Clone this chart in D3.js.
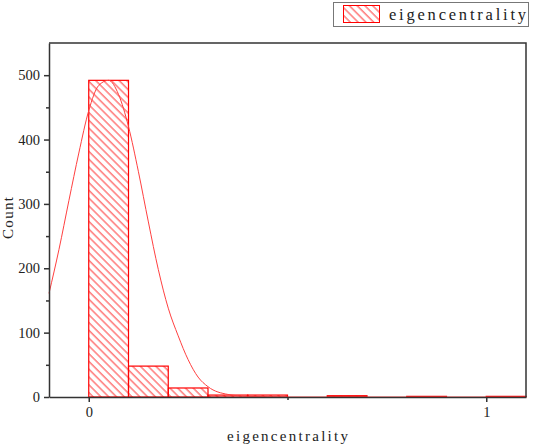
<!DOCTYPE html>
<html>
<head>
<meta charset="utf-8">
<script src="https://cdn.jsdelivr.net/npm/d3@7"></script>
<style>
  body { margin: 0; background: #fff; }
  text { font-family: "Liberation Serif", serif; fill: #222; }
</style>
</head>
<body>
<div id="chart"></div>
<script>
// histogram bins (left edge) and counts
let binStarts = [0, 0.1, 0.2, 0.3, 0.4, 0.5, 0.6, 0.7, 0.8, 0.9, 1.0];
let binWidth = 0.1;
let counts = [492, 48, 14, 3, 3, 0, 2, 0, 1, 0, 1];

// fitted curve
let fitX = [-0.1, -0.075, -0.05, -0.025, 0, 0.025, 0.05, 0.075, 0.1, 0.125, 0.15, 0.175, 0.2, 0.225, 0.25, 0.275, 0.3, 0.35, 0.4, 0.5, 0.7, 1.1];
let fitY = [161, 229, 305, 379, 445, 484, 492, 470, 420, 350, 272, 198, 138, 95, 58, 31, 16, 4, 1, 0, 0, 0];

// ticks
let xMajor = [0, 1];
let xMinor = [0.5];
let yMajor = [0, 100, 200, 300, 400, 500];
let yMinor = [50, 150, 250, 350, 450];

let seriesName = "eigencentrality";
let xLabel = "eigencentrality";
let yLabel = "Count";

// Set the dimensions and margins of the graph
let margin = {top: 43, right: 7, bottom: 48, left: 49};
let width = 533 - margin.left - margin.right;
let height = 445 - margin.top - margin.bottom;

let root = d3.select("#chart")
  .append("svg")
    .attr("width", 533)
    .attr("height", 445);

// hatch pattern
let defs = root.append("defs");
defs.append("pattern")
    .attr("id", "hatch")
    .attr("patternUnits", "userSpaceOnUse")
    .attr("width", 5.5)
    .attr("height", 5.5)
    .attr("patternTransform", "rotate(-45)")
  .append("line")
    .attr("x1", 1).attr("y1", 0)
    .attr("x2", 1).attr("y2", 5.5)
    .attr("stroke", "#ff2020")
    .attr("stroke-width", 0.9);

let svg = root.append("g")
  .attr("transform", "translate(" + margin.left + "," + margin.top + ")");

let x = d3.scaleLinear().domain([-0.1, 1.1]).range([0, width]);
let y = d3.scaleLinear().domain([0, 550]).range([height, 0]);

let bins = binStarts.map((s, i) => ({x0: s, x1: s + binWidth, n: counts[i]}));

// bars
svg.append("g")
  .selectAll("rect")
  .data(bins.filter(d => d.n > 0))
  .enter()
  .append("rect")
    .attr("x", d => x(d.x0))
    .attr("y", d => y(d.n))
    .attr("width", d => x(d.x1) - x(d.x0))
    .attr("height", d => y(0) - y(d.n))
    .attr("fill", "url(#hatch)")
    .attr("stroke", "#ff0000")
    .attr("stroke-width", 1.2);

// fitted curve
let line = d3.line()
  .x((d, i) => x(fitX[i]))
  .y(d => y(d))
  .curve(d3.curveMonotoneX);
svg.append("path")
  .datum(fitY)
  .attr("d", line)
  .attr("fill", "none")
  .attr("stroke", "#ff4040")
  .attr("stroke-width", 1);

// frame: top and right
let axisColor = "#333";
svg.append("path")
  .attr("d", "M0,0H" + width + "V" + height)
  .attr("fill", "none")
  .attr("stroke", axisColor)
  .attr("stroke-width", 1.5);

// Add X axis
svg.append("g")
  .attr("transform", "translate(0," + height + ")")
  .call(d3.axisBottom(x).tickValues(xMajor).tickFormat(d3.format("d")).tickSizeInner(5).tickSizeOuter(0).tickPadding(5));
svg.append("g")
  .attr("transform", "translate(0," + height + ")")
  .call(d3.axisBottom(x).tickValues(xMinor).tickFormat("").tickSizeInner(3).tickSizeOuter(0))
  .select(".domain").remove();

// Add Y axis
svg.append("g")
  .call(d3.axisLeft(y).tickValues(yMajor).tickSizeInner(5).tickSizeOuter(0).tickPadding(4));
svg.append("g")
  .call(d3.axisLeft(y).tickValues(yMinor).tickFormat("").tickSizeInner(3).tickSizeOuter(0))
  .select(".domain").remove();

svg.selectAll(".domain, .tick line")
  .attr("stroke", axisColor)
  .attr("stroke-width", 1.5);
svg.selectAll(".tick text")
  .style("font-family", "Liberation Serif, serif")
  .style("font-size", "14.5px")
  .attr("fill", "#222");

// axis labels
svg.append("text")
  .attr("x", width / 2)
  .attr("y", height + 44)
  .attr("text-anchor", "middle")
  .attr("textLength", 121)
  .attr("lengthAdjust", "spacing")
  .style("font-size", "15px")
  .text(xLabel);

svg.append("text")
  .attr("transform", "translate(" + (-36.5) + "," + (height / 2 - 2) + ") rotate(-90)")
  .attr("text-anchor", "middle")
  .attr("textLength", 42)
  .attr("lengthAdjust", "spacing")
  .style("font-size", "15px")
  .text(yLabel);

// legend
let lg = root.append("g");
lg.append("rect")
  .attr("x", 333.5).attr("y", 2.5)
  .attr("width", 195).attr("height", 24)
  .attr("fill", "#fff")
  .attr("stroke", "#777")
  .attr("stroke-width", 1);
lg.append("rect")
  .attr("x", 343.5).attr("y", 5.5)
  .attr("width", 36).attr("height", 17)
  .attr("fill", "url(#hatch)")
  .attr("stroke", "#ff0000")
  .attr("stroke-width", 1);
lg.append("text")
  .attr("x", 389)
  .attr("y", 20)
  .attr("textLength", 137)
  .attr("lengthAdjust", "spacing")
  .style("font-size", "16.5px")
  .text(seriesName);
</script>
</body>
</html>
